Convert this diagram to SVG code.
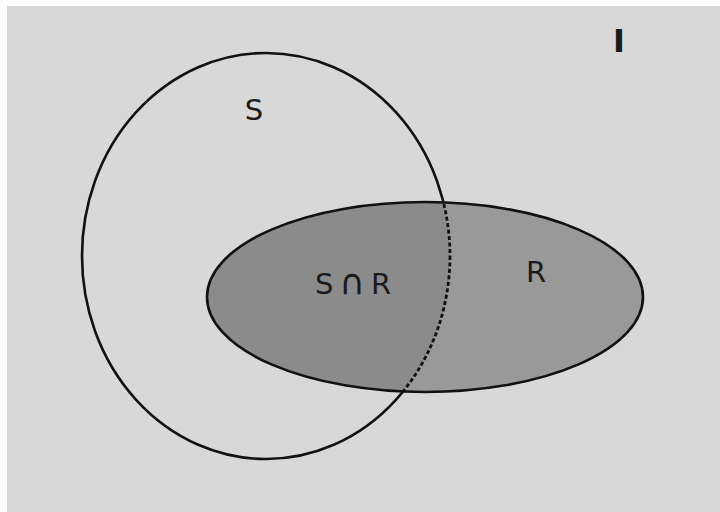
<svg xmlns="http://www.w3.org/2000/svg" width="720" height="512" viewBox="0 0 720 512">
<style>
.lbl{font-family:"DejaVu Sans",sans-serif;fill:#1a1a1a}
.edge{fill:none;stroke:#111;stroke-width:2.6}
.dot{fill:none;stroke:#111;stroke-width:2.8;stroke-dasharray:4 2.5}
</style>
<defs>
<clipPath id="inS"><ellipse cx="266" cy="256" rx="184" ry="203"/></clipPath>
<clipPath id="inR"><ellipse cx="425" cy="297" rx="218" ry="95"/></clipPath>
<mask id="outR"><rect width="720" height="512" fill="#fff"/><ellipse cx="425" cy="297" rx="218" ry="95" fill="#000"/></mask>
</defs>
<rect x="0" y="0" width="720" height="512" fill="#fff"/>
<rect x="7" y="6" width="713" height="506" fill="#d8d8d8"/>
<g id="R">
<ellipse cx="425" cy="297" rx="218" ry="95" fill="#999"/>
<ellipse cx="425" cy="297" rx="218" ry="95" fill="#8b8b8b" clip-path="url(#inS)"/>
<ellipse class="edge" cx="425" cy="297" rx="218" ry="95"/>
<text class="lbl" x="536" y="282" font-size="29" text-anchor="middle">R</text>
</g>
<g id="S">
<ellipse class="edge" cx="266" cy="256" rx="184" ry="203" mask="url(#outR)"/>
<ellipse class="dot" cx="266" cy="256" rx="184" ry="203" clip-path="url(#inR)"/>
<text class="lbl" x="254" y="120" font-size="29" text-anchor="middle">S</text>
</g>
<g id="SR">
<text class="lbl" x="315" y="294" font-size="29" letter-spacing="6">S<tspan font-size="35">∩</tspan>R</text>
</g>
<g id="I">
<text class="lbl" x="619" y="52" font-size="32" font-weight="bold" text-anchor="middle">I</text>
</g>
</svg>
